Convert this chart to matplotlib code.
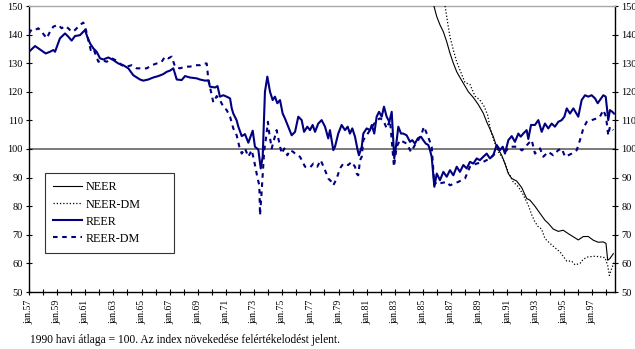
import matplotlib
matplotlib.use("Agg")
import matplotlib.pyplot as plt
from matplotlib.ticker import FixedLocator

plt.rcParams['font.family'] = ['Liberation Serif', 'DejaVu Serif']

# Effective exchange rate indices, 1990 monthly average = 100 (decimal years)
reer_t = [1957.00, 1957.43, 1957.78, 1958.19, 1958.49, 1958.73, 1958.85, 1959.20, 1959.56, 1959.79,
          1960.03, 1960.27, 1960.62, 1960.98, 1961.14, 1961.34, 1961.57, 1961.81, 1962.05, 1962.28,
          1962.64, 1962.99, 1963.35, 1963.70, 1964.06, 1964.41, 1964.89, 1965.12, 1965.48, 1965.83,
          1966.19, 1966.55, 1966.79, 1967.02, 1967.26, 1967.50, 1967.85, 1968.09, 1968.44, 1968.92,
          1969.15, 1969.51, 1969.74, 1969.86, 1970.22, 1970.40, 1970.57, 1970.81, 1971.05, 1971.29,
          1971.41, 1971.52, 1971.76, 1971.88, 1972.12, 1972.35, 1972.59, 1972.90, 1973.06, 1973.30,
          1973.47, 1973.61, 1973.77, 1973.94, 1974.13, 1974.32, 1974.48, 1974.65, 1974.84, 1975.03,
          1975.19, 1975.43, 1975.67, 1975.91, 1976.14, 1976.38, 1976.55, 1976.78, 1976.97, 1977.16,
          1977.33, 1977.56, 1977.80, 1978.04, 1978.27, 1978.39, 1978.63, 1978.75, 1978.98, 1979.22,
          1979.46, 1979.65, 1979.81, 1979.98, 1980.17, 1980.36, 1980.45, 1980.65, 1980.76, 1981.00,
          1981.24, 1981.36, 1981.54, 1981.71, 1981.88, 1982.07, 1982.23, 1982.42, 1982.61, 1982.78,
          1982.89, 1982.96, 1983.08, 1983.25, 1983.44, 1983.60, 1983.84, 1984.08, 1984.24, 1984.43,
          1984.63, 1984.86, 1985.02, 1985.20, 1985.38, 1985.50, 1985.62, 1985.81, 1985.98, 1986.21,
          1986.45, 1986.69, 1986.92, 1987.16, 1987.40, 1987.63, 1987.87, 1988.11, 1988.34, 1988.58,
          1988.82, 1989.05, 1989.29, 1989.53, 1989.76, 1990.00, 1990.24, 1990.48, 1990.67, 1990.83,
          1991.07, 1991.31, 1991.54, 1991.78, 1991.95, 1992.13, 1992.37, 1992.49, 1992.68, 1992.96,
          1993.20, 1993.44, 1993.67, 1993.91, 1994.15, 1994.38, 1994.62, 1994.86, 1995.05, 1995.22,
          1995.45, 1995.69, 1996.04, 1996.28, 1996.52, 1996.75, 1996.99, 1997.23, 1997.42, 1997.58,
          1997.82, 1997.99, 1998.17, 1998.29, 1998.46, 1998.58]
reer_v = [134.0, 136.0, 134.8, 133.4, 134.0, 134.6, 134.0, 138.7, 140.4, 139.3,
          137.9, 139.5, 139.8, 141.6, 139.3, 136.9, 135.2, 134.0, 131.7, 131.3,
          132.0, 131.1, 129.9, 129.3, 128.2, 125.8, 124.3, 123.9, 124.3, 125.0,
          125.5, 126.2, 127.0, 127.4, 128.2, 124.3, 124.1, 125.5, 125.0, 124.7,
          124.3, 123.9, 124.0, 121.8, 121.5, 122.0, 118.3, 118.8, 118.3, 117.7,
          114.2, 112.4, 110.0, 107.8, 104.5, 105.2, 102.2, 106.4, 100.8, 99.8,
          93.2, 97.3, 120.0, 125.3, 120.0, 117.1, 118.3, 116.0, 117.1, 112.4,
          110.7, 107.8, 104.8, 106.0, 111.3, 110.1, 106.0, 107.8, 106.6, 108.4,
          106.0, 108.9, 110.1, 107.8, 103.7, 106.6, 99.6, 100.8, 105.4, 108.4,
          106.6, 107.8, 105.4, 107.2, 104.3, 99.6, 97.8, 100.8, 105.4, 107.2,
          106.6, 108.4, 105.4, 111.3, 113.0, 111.3, 114.8, 111.3, 109.5, 113.0,
          103.1, 96.7, 100.8, 107.8, 105.4, 105.4, 104.8, 102.5, 103.1, 101.9,
          103.7, 104.3, 103.1, 101.9, 101.4, 99.6, 97.3, 86.8, 91.4, 89.1,
          92.0, 90.3, 92.6, 90.8, 93.8, 92.0, 94.4, 93.2, 95.5, 94.9,
          96.7, 96.1, 97.3, 98.4, 96.7, 97.8, 101.4, 99.6, 100.8, 98.4,
          103.1, 104.5, 102.5, 105.4, 104.3, 105.4, 106.6, 103.5, 108.4, 108.4,
          110.1, 106.0, 108.9, 107.2, 108.9, 107.8, 109.5, 110.1, 111.3, 114.2,
          112.4, 114.2, 111.3, 117.1, 118.8, 118.3, 118.8, 117.7, 116.0, 117.1,
          118.8, 118.3, 110.1, 113.6, 113.0, 112.4]

reer_dm_t = [1957.00, 1957.19, 1957.43, 1957.66, 1957.90, 1958.26, 1958.49, 1958.73, 1959.08, 1959.32,
             1959.56, 1959.79, 1960.03, 1960.27, 1960.62, 1960.86, 1961.05, 1961.21, 1961.39, 1961.57,
             1961.93, 1962.17, 1962.52, 1962.88, 1963.23, 1963.59, 1963.94, 1964.30, 1964.65, 1965.01,
             1965.37, 1965.72, 1966.08, 1966.43, 1966.67, 1966.90, 1967.14, 1967.38, 1967.73, 1968.09,
             1968.44, 1968.80, 1969.15, 1969.39, 1969.63, 1969.74, 1969.91, 1970.10, 1970.34, 1970.57,
             1970.81, 1971.05, 1971.29, 1971.52, 1971.76, 1971.95, 1972.12, 1972.35, 1972.59, 1972.83,
             1972.99, 1973.13, 1973.25, 1973.37, 1973.42, 1973.52, 1973.62, 1973.72, 1973.86, 1973.98,
             1974.08, 1974.25, 1974.41, 1974.60, 1974.72, 1974.96, 1975.15, 1975.36, 1975.55, 1975.78,
             1976.03, 1976.26, 1976.62, 1976.97, 1977.21, 1977.49, 1977.73, 1978.04, 1978.27, 1978.51,
             1978.63, 1978.87, 1979.10, 1979.34, 1979.69, 1979.93, 1980.17, 1980.29, 1980.40, 1980.53,
             1980.65, 1980.76, 1981.00, 1981.24, 1981.47, 1981.71, 1981.95, 1982.18, 1982.42, 1982.66,
             1982.89, 1982.94, 1983.13, 1983.37, 1983.60, 1983.84, 1984.15, 1984.43, 1984.67, 1984.91,
             1985.07, 1985.27, 1985.50, 1985.62, 1985.81, 1985.98, 1986.21, 1986.69, 1986.92, 1987.51,
             1987.99, 1988.34, 1988.82, 1989.29, 1989.76, 1990.12, 1990.36, 1990.83, 1991.19, 1991.66,
             1992.04, 1992.49, 1992.73, 1992.96, 1993.32, 1993.55, 1993.91, 1994.26, 1994.62, 1994.86,
             1995.10, 1995.33, 1995.57, 1995.93, 1996.16, 1996.40, 1996.64, 1996.99, 1997.35, 1997.58,
             1997.82, 1998.01, 1998.17, 1998.29, 1998.53]
reer_dm_v = [140.4, 141.8, 141.6, 142.2, 141.0, 138.7, 141.0, 142.8, 143.4, 142.2,
             143.0, 142.2, 141.0, 141.6, 143.4, 144.2, 141.6, 138.1, 134.6, 135.2,
             130.5, 131.1, 130.5, 131.7, 130.9, 129.3, 128.8, 129.3, 128.2, 128.2,
             128.2, 129.3, 129.9, 130.5, 132.3, 131.7, 132.3, 128.8, 128.2, 128.8,
             128.8, 129.3, 129.3, 129.9, 129.9, 124.7, 120.6, 116.3, 118.5, 117.1,
             114.8, 113.6, 111.3, 107.2, 104.8, 100.8, 98.4, 100.2, 97.3, 99.6,
             96.1, 92.6, 89.7, 87.3, 76.8, 84.0, 92.0, 99.6, 104.3, 109.5,
             105.4, 100.2, 103.1, 106.6, 103.7, 98.4, 100.2, 97.8, 99.6, 99.0,
             97.8, 97.3, 93.8, 93.5, 94.9, 93.8, 96.1, 92.6, 89.7, 88.5,
             87.3, 89.7, 93.2, 94.9, 94.4, 95.5, 93.8, 91.4, 90.8, 96.1,
             97.3, 103.1, 104.8, 106.6, 108.4, 110.1, 110.7, 110.1, 107.2, 110.1,
             96.7, 93.8, 100.8, 103.1, 102.5, 101.9, 99.0, 101.4, 103.1, 105.4,
             107.8, 105.4, 102.5, 100.8, 87.5, 88.5, 88.0, 88.5, 87.3, 88.5,
             89.7, 93.8, 94.9, 95.5, 96.7, 98.4, 100.2, 99.0, 100.8, 100.8,
             99.5, 101.9, 103.1, 98.4, 100.2, 97.3, 99.0, 97.8, 99.6, 100.2,
             97.3, 97.8, 98.4, 99.6, 103.1, 107.2, 109.5, 110.1, 110.7, 111.3,
             113.6, 111.3, 104.8, 107.8, 106.6]

neer_t = [1985.78, 1985.98, 1986.21, 1986.45, 1986.69, 1986.92, 1987.16, 1987.40, 1987.63, 1987.99,
          1988.23, 1988.58, 1988.94, 1989.29, 1989.53, 1989.76, 1990.00, 1990.24, 1990.60, 1990.83,
          1991.07, 1991.31, 1991.66, 1992.02, 1992.37, 1992.61, 1992.96, 1993.32, 1993.67, 1993.91,
          1994.26, 1994.62, 1994.97, 1995.33, 1995.69, 1996.04, 1996.40, 1996.75, 1997.11, 1997.46,
          1997.82, 1998.01, 1998.13, 1998.29, 1998.53]
neer_v = [150.0, 146.3, 143.4, 141.0, 137.5, 133.5, 130.0, 127.0, 125.0, 122.0,
          120.0, 118.0, 115.5, 112.5, 109.5, 107.0, 104.3, 100.8, 97.8, 94.9,
          91.4, 89.7, 88.8, 86.5, 82.7, 82.1, 80.0, 77.5, 75.1, 74.0,
          72.0, 71.2, 71.6, 70.4, 69.3, 68.2, 69.4, 69.4, 68.1, 67.4,
          67.5, 67.0, 61.1, 61.7, 63.4]

neer_dm_t = [1986.57, 1986.80, 1986.92, 1987.16, 1987.40, 1987.63, 1987.99, 1988.34, 1988.70, 1989.05,
             1989.34, 1989.59, 1989.76, 1989.88, 1990.12, 1990.36, 1990.60, 1990.83, 1991.07, 1991.42,
             1991.78, 1992.13, 1992.49, 1992.73, 1992.96, 1993.20, 1993.44, 1993.67, 1994.03, 1994.38,
             1994.74, 1994.97, 1995.22, 1995.57, 1995.81, 1996.16, 1996.40, 1996.75, 1997.23, 1997.58,
             1997.94, 1998.13, 1998.25, 1998.42, 1998.58]
neer_dm_v = [150.0, 142.8, 139.3, 134.6, 130.5, 127.6, 123.2, 122.6, 118.5, 117.1,
             115.0, 112.0, 107.8, 105.4, 101.9, 99.0, 97.3, 94.9, 91.8, 88.5,
             86.8, 84.0, 80.3, 77.0, 74.5, 72.8, 72.0, 68.7, 67.0, 65.5,
             64.0, 62.5, 60.8, 60.8, 59.5, 60.0, 61.5, 62.3, 62.5, 62.3,
             62.0, 59.3, 55.8, 58.3, 60.2]

series_names = ["NEER", "NEER-DM", "REER", "REER-DM"]
y_ticks = list(range(50, 151, 10))
year_ticks = list(range(1957, 1999))
label_years = list(range(1957, 1998, 2))
x_labels = ["jan.%02d" % (y % 100) for y in label_years]
caption = "1990 havi átlaga = 100. Az index növekedése felértékelodést jelent."

W, H = 635, 349
fig = plt.figure(figsize=(W / 100, H / 100), dpi=100)
ax = fig.add_axes([29 / W, 1 - 292 / H, 586 / W, 286 / H])

navy = "#000080"
ax.axhline(100, color="#707070", lw=1.3, zorder=1)

ax.plot(neer_t, neer_v, color="black", lw=0.8, label=series_names[0], zorder=3)
ax.plot(neer_dm_t, neer_dm_v, color="black", lw=0.9, ls=(0, (1, 1.6)), label=series_names[1], zorder=3)
ax.plot(reer_t, reer_v, color=navy, lw=1.5, label=series_names[2], zorder=4)
ax.plot(reer_dm_t, reer_dm_v, color=navy, lw=1.5, ls=(0, (2.2, 2.2)), label=series_names[3], zorder=4)

ax.set_xlim(1957.0, 1998.65)
ax.set_ylim(50, 150)

ax.yaxis.set_major_locator(FixedLocator(y_ticks))
ax.xaxis.set_major_locator(FixedLocator(label_years))
ax.xaxis.set_minor_locator(FixedLocator(year_ticks))
ax.set_xticklabels(x_labels, rotation=90, fontsize=7)
ax.tick_params(axis="y", which="both", direction="inout", length=5, width=0.8,
               left=True, right=True, labelleft=True, labelright=True,
               labelsize=7.5, pad=2)
ax.tick_params(axis="x", which="both", direction="inout", length=5, width=0.8, pad=3)

for side in ("left", "right", "bottom"):
    ax.spines[side].set_color("black")
    ax.spines[side].set_linewidth(1.0)
ax.spines["top"].set_color("#a8a8a8")
ax.spines["top"].set_linewidth(1.0)

# legend box spans a fixed width; rows stay left-aligned inside it
leg_w = 129 / 586
leg_h = 79 / 286
leg = ax.legend(loc="upper left", bbox_to_anchor=(0.027, 0.416 - leg_h, leg_w, leg_h),
                mode="expand", borderaxespad=0,
                fontsize=8.7, frameon=True, fancybox=False, edgecolor="black",
                handlelength=2.4, handletextpad=0.3, labelspacing=0.42, borderpad=0.7)
leg.get_frame().set_linewidth(0.8)
leg.set_zorder(6)

fig.text(30 / W, 1 - 340 / H, caption, fontsize=8.3, va="center", ha="left")

fig.savefig("out.png", dpi=100)
